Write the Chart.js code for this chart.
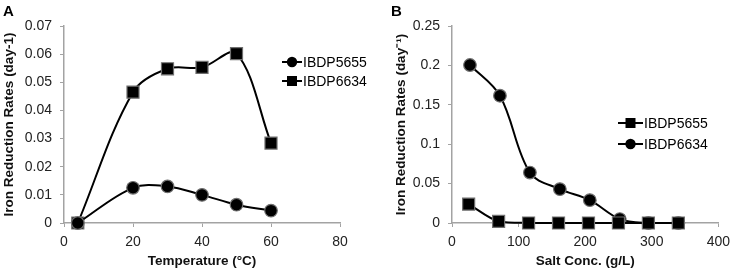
<!DOCTYPE html>
<html>
<head>
<meta charset="utf-8">
<script src="https://cdn.jsdelivr.net/npm/chart.js@4/dist/chart.umd.min.js"></script>
<style>
  html, body { margin: 0; padding: 0; background: #fff; }
  .panel { position: absolute; top: 0; }
</style>
</head>
<body>
<div class="panel" style="left:0"><canvas id="chartA" width="370" height="272"></canvas></div>
<div class="panel" style="left:370px"><canvas id="chartB" width="367" height="272"></canvas></div>
<script>
// Panel A: temperature
const tempC = [4, 20, 30, 40, 50, 60];
const tempIBDP5655 = [0, 0.0125, 0.013, 0.010, 0.0065, 0.0044];
const tempIBDP6634 = [0, 0.0465, 0.0548, 0.0553, 0.0602, 0.0284];
const tempXTicks = [0, 20, 40, 60, 80];
const tempYTicks = [0, 0.01, 0.02, 0.03, 0.04, 0.05, 0.06, 0.07];

// Panel B: salt concentration
const saltIBDP5655X = [25, 70, 115, 160, 205, 250, 295, 340];
const saltIBDP5655 = [0.024, 0.002, 0, 0, 0, 0, 0, 0];
const saltIBDP6634X = [27, 72, 117, 162, 207, 252, 295, 340];
const saltIBDP6634 = [0.2005, 0.1615, 0.064, 0.043, 0.029, 0.005, 0, 0];
const saltXTicks = [0, 100, 200, 300, 400];
const saltYTicks = [0, 0.05, 0.1, 0.15, 0.2, 0.25];

const FONT = "'Liberation Sans', Arial, sans-serif";
const AXIS_GREY = '#a3a3a3';

const pairs = (xs, ys) => xs.map((x, i) => ({ x: x, y: ys[i] }));

function series(label, xs, ys, style) {
  return {
    label: label,
    data: pairs(xs, ys),
    borderColor: '#000',
    borderWidth: 2,
    tension: 0.35,
    pointStyle: style,
    pointRadius: style === 'rect' ? 8.5 : 6.3,
    pointBackgroundColor: '#000',
    pointBorderColor: '#6f6f6f',
    pointBorderWidth: 1.2,
    clip: false
  };
}

// legend drawn over the plot, plus the panel letter
const panelDecor = {
  id: 'panelDecor',
  afterDraw(chart, args, o) {
    const ctx = chart.ctx;
    ctx.save();
    ctx.fillStyle = '#000';
    ctx.font = 'bold 15px ' + FONT;
    ctx.textBaseline = 'alphabetic';
    ctx.fillText(o.letter, o.letterX, 16);
    chart.data.datasets.forEach((ds, i) => {
      const y = o.y + i * o.gap;
      ctx.strokeStyle = '#000';
      ctx.lineWidth = 2;
      ctx.beginPath();
      ctx.moveTo(o.x, y);
      ctx.lineTo(o.x + o.len, y);
      ctx.stroke();
      const cx = o.x + o.len / 2;
      ctx.fillStyle = '#000';
      ctx.beginPath();
      if (ds.pointStyle === 'rect') ctx.rect(cx - 5, y - 5, 10, 10);
      else ctx.arc(cx, y, 5.2, 0, Math.PI * 2);
      ctx.fill();
      ctx.font = '14px ' + FONT;
      ctx.textBaseline = 'middle';
      ctx.fillText(ds.label, o.x + o.len + 1, y + 1);
    });
    ctx.restore();
  }
};

function axisX(min, max, ticks, title) {
  return {
    type: 'linear', min: min, max: max,
    afterBuildTicks: s => { s.ticks = ticks.map(v => ({ value: v })); },
    afterFit: s => { s.height = 49; },
    border: { color: AXIS_GREY, width: 1.5 },
    grid: { drawOnChartArea: false, drawTicks: true, tickLength: 4, color: AXIS_GREY },
    ticks: { padding: 7, color: '#222', font: { family: FONT, size: 14 }, callback: v => String(v) },
    title: { display: true, text: title, color: '#111', padding: { top: 0, bottom: 3 },
             font: { family: FONT, size: 13.5, weight: 'bold' } }
  };
}

function axisY(min, max, ticks, title, width) {
  return {
    type: 'linear', min: min, max: max,
    afterBuildTicks: s => { s.ticks = ticks.map(v => ({ value: v })); },
    afterFit: s => { s.width = width; },
    border: { color: AXIS_GREY, width: 1.5 },
    grid: { drawOnChartArea: false, drawTicks: true, tickLength: 4, color: AXIS_GREY },
    ticks: { padding: 8, color: '#222', font: { family: FONT, size: 14 }, callback: v => String(v) },
    title: { display: true, text: title, color: '#111', padding: { top: 1, bottom: 0 },
             font: { family: FONT, size: 13.5, weight: 'bold' } }
  };
}

function baseOptions(pad, xs, ys, decor) {
  return {
    responsive: false,
    animation: false,
    devicePixelRatio: 1,
    layout: { padding: pad },
    plugins: { legend: { display: false }, tooltip: { enabled: false }, panelDecor: decor },
    scales: { x: xs, y: ys }
  };
}

new Chart(document.getElementById('chartA'), {
  type: 'line',
  data: {
    datasets: [
      series('IBDP5655', tempC, tempIBDP5655, 'circle'),
      series('IBDP6634', tempC, tempIBDP6634, 'rect')
    ]
  },
  options: baseOptions(
    { left: 0, right: 30, top: 26, bottom: 0 },
    axisX(0, 80, tempXTicks, 'Temperature (°C)'),
    axisY(0, 0.07, tempYTicks, 'Iron Reduction Rates (day-1)', 64),
    { letter: 'A', letterX: 3, x: 282, y: 62, gap: 19, len: 20 }
  ),
  plugins: [panelDecor]
});

new Chart(document.getElementById('chartB'), {
  type: 'line',
  data: {
    datasets: [
      series('IBDP5655', saltIBDP5655X, saltIBDP5655, 'rect'),
      series('IBDP6634', saltIBDP6634X, saltIBDP6634, 'circle')
    ]
  },
  options: baseOptions(
    { left: 22, right: 14, top: 26, bottom: 0 },
    axisX(0, 400, saltXTicks, 'Salt Conc. (g/L)'),
    axisY(0, 0.25, saltYTicks, 'Iron Reduction Rates (day⁻¹)', 60),
    { letter: 'B', letterX: 21, x: 248, y: 123, gap: 21, len: 25 }
  ),
  plugins: [panelDecor]
});
</script>
</body>
</html>
